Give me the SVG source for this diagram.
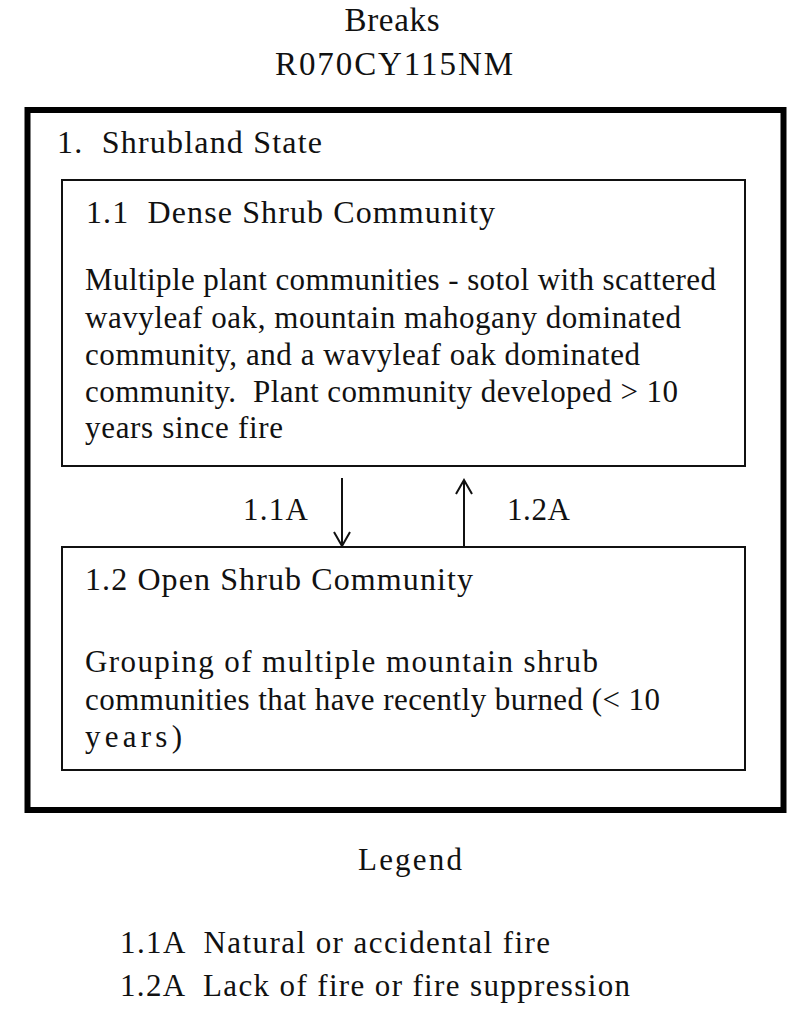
<svg xmlns="http://www.w3.org/2000/svg" width="800" height="1030" viewBox="0 0 800 1030">
<defs>
<style>
.t{font-size:33px;fill:#111;}
.h{font-size:32px;fill:#111;}
.b{font-size:31px;fill:#111;}
.box{fill:#fff;stroke:#111;stroke-width:2;}
.outer{fill:#fff;stroke:#000;stroke-width:6;}
.conn{stroke:#111;stroke-width:2;fill:none;}
</style>
<marker id="arr" viewBox="0 0 20 20" refX="18" refY="10" markerWidth="20" markerHeight="20" markerUnits="userSpaceOnUse" orient="auto">
<path d="M4,2 L18,10 L4,18" fill="none" stroke="#111" stroke-width="2"/>
</marker>
</defs>
<rect width="800" height="1030" fill="#fff"/>
<g font-family="Liberation Serif, Times New Roman, DejaVu Serif, serif">
<g id="title">
<text class="t" x="392" y="31" text-anchor="middle" textLength="95" lengthAdjust="spacing">Breaks</text>
<text class="t" x="394" y="75" text-anchor="middle" textLength="238" lengthAdjust="spacing">R070CY115NM</text>
</g>
<g id="state1">
<rect class="outer" x="27.5" y="110" width="756" height="700"/>
<text class="h" x="57" y="153" textLength="265" lengthAdjust="spacing" xml:space="preserve">1.  Shrubland State</text>
</g>
<g id="community1_1">
<rect class="box" x="62" y="180" width="683" height="286"/>
<text class="h" x="86" y="223" textLength="409" lengthAdjust="spacing" xml:space="preserve">1.1  Dense Shrub Community</text>
<text class="b" x="85" y="290" textLength="631" lengthAdjust="spacing">Multiple plant communities - sotol with scattered</text>
<text class="b" x="85" y="328" textLength="596" lengthAdjust="spacing">wavyleaf oak, mountain mahogany dominated</text>
<text class="b" x="85" y="365" textLength="555" lengthAdjust="spacing">community, and a wavyleaf oak dominated</text>
<text class="b" x="85" y="402" textLength="593" lengthAdjust="spacing" xml:space="preserve">community.  Plant community developed &gt; 10</text>
<text class="b" x="85" y="438" textLength="198" lengthAdjust="spacing">years since fire</text>
</g>
<g id="community1_2">
<rect class="box" x="62" y="547" width="683" height="223"/>
<text class="h" x="85" y="590" textLength="388" lengthAdjust="spacing">1.2 Open Shrub Community</text>
<text class="b" x="85" y="672" textLength="513" lengthAdjust="spacing">Grouping of multiple mountain shrub</text>
<text class="b" x="85" y="710" textLength="575" lengthAdjust="spacing">communities that have recently burned (&lt; 10</text>
<text class="b" x="85" y="747" textLength="97" lengthAdjust="spacing">years)</text>
</g>
<g id="connectors">
<line class="conn" x1="342" y1="478" x2="342" y2="546" marker-end="url(#arr)"/>
<line class="conn" x1="464" y1="547" x2="464" y2="480" marker-end="url(#arr)"/>
<text class="b" x="243" y="520" textLength="65" lengthAdjust="spacing">1.1A</text>
<text class="b" x="507" y="520" textLength="63" lengthAdjust="spacing">1.2A</text>
</g>
<g id="legend">
<text class="b" x="410" y="870" text-anchor="middle" textLength="104" lengthAdjust="spacing">Legend</text>
<text class="b" x="120" y="953" textLength="430" lengthAdjust="spacing" xml:space="preserve">1.1A  Natural or accidental fire</text>
<text class="b" x="120" y="996" textLength="510" lengthAdjust="spacing" xml:space="preserve">1.2A  Lack of fire or fire suppression</text>
</g>
</g>
</svg>
